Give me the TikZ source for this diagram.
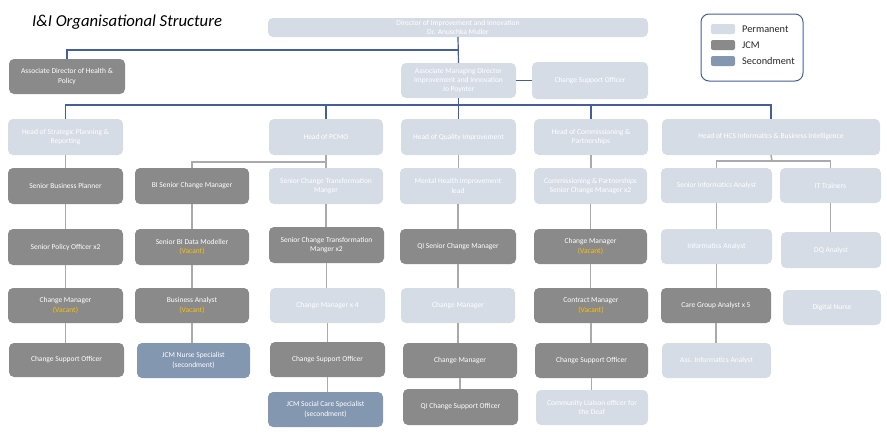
\documentclass[tikz,border=0pt]{standalone}
\usepackage{fontspec}
\setmainfont{Carlito}
\definecolor{permc}{RGB}{214,220,229}
\definecolor{jcmc}{RGB}{138,138,138}
\definecolor{secc}{RGB}{132,151,176}
\definecolor{bluel}{RGB}{68,94,160}
\definecolor{grayl}{RGB}{170,170,170}
\definecolor{vacc}{RGB}{255,192,0}
\newcommand\vac{\textcolor{vacc}{(Vacant)}}
\newcommand\bx[7]{\node[#2, minimum width={#5pt-#3pt}, minimum height={#6pt-#4pt}] (#1) at ({(#3+#5)/2},{(#4+#6)/2}) {#7};}
\tikzset{
  box/.style={rounded corners=5pt, text=white, align=center, inner sep=1pt, outer sep=0pt,
    font=\fontsize{7.5}{9.3}\selectfont},
  perm/.style={box, fill=permc},
  jcm/.style={box, fill=jcmc},
  sec/.style={box, fill=secc},
  bline/.style={draw=bluel, line width=1.2pt},
  gline/.style={draw=grayl, line width=1.5pt},
  swatch/.style={rounded corners=2pt, minimum width=24pt, minimum height=10pt, inner sep=0pt},
  legtext/.style={anchor=west, font=\fontsize{10.3}{12}\selectfont, text=black!85, inner sep=0pt}
}
\begin{document}
\begin{tikzpicture}[x=1pt,y=-1pt]
\useasboundingbox (0,0) rectangle (887,434);
\node[anchor=base west, inner sep=0pt, font=\fontsize{16.7}{19}\selectfont\itshape, text=black] (title) at (32,26.5) {I\&I Organisational Structure};
% legend
\node[draw=bluel, line width=1pt, rounded corners=8pt, minimum width=102pt, minimum height=67pt, inner sep=0pt] (leg) at (752,47.5) {};
\node[swatch, fill=permc] (sw1) at (723,29) {};
\node[swatch, fill=jcmc] (sw2) at (723,45) {};
\node[swatch, fill=secc] (sw3) at (723,61) {};
\node[legtext] (lt1) at (742,29) {Permanent};
\node[legtext] (lt2) at (742,45) {JCM};
\node[legtext] (lt3) at (742,61) {Secondment};
% row 0
\bx{D}{perm}{268}{18}{648}{37}{Director of Improvement and Innovation\\Dr. Anuschka Muller}
\bx{AD}{jcm}{9}{59}{125}{94}{Associate Director of Health \&\\Policy}
\bx{AMD}{perm}{401}{63}{516}{98}{Associate Managing Director\\Improvement and Innovation\\Jo Poynter}
\bx{CSOt}{perm}{532}{62}{648}{99}{Change Support Officer}
% heads
\bx{HSP}{perm}{8}{119}{123}{155}{Head of Strategic Planning \&\\Reporting}
\bx{HPC}{perm}{269}{119}{383}{155}{Head of PCMO}
\bx{HQI}{perm}{401}{119}{516}{155}{Head of Quality Improvement}
\bx{HCP}{perm}{534}{119}{648}{155}{Head of Commissioning \&\\Partnerships}
\bx{HCS}{perm}{662}{119}{880}{155}{Head of HCS Informatics \& Business Intelligence}
% row 2
\bx{SBP}{jcm}{8}{168}{123}{204}{Senior Business Planner}
\bx{BISCM}{jcm}{135}{168}{249}{204}{BI Senior Change Manager}
\bx{SCTM}{perm}{269}{168}{383}{204}{Senior Change Transformation\\Manger}
\bx{MHIL}{perm}{400}{168}{516}{204}{Mental Health Improvement\\lead}
\bx{CPSCM}{perm}{534}{168}{647}{204}{Commissioning \& Partnerships\\Senior Change Manager x2}
\bx{SIA}{perm}{661}{168}{772}{203}{Senior Informatics Analyst}
\bx{ITT}{perm}{780}{168}{881}{203}{IT Trainers}
% row 3
\bx{SPO}{jcm}{8}{229}{123}{265}{Senior Policy Officer x2}
\bx{SBIDM}{jcm}{135}{229}{249}{265}{Senior BI Data Modeller\\\vac}
\bx{SCTMb}{jcm}{269}{227}{384}{263}{Senior Change Transformation\\Manger x2}
\bx{QISCM}{jcm}{400}{229}{516}{264}{QI Senior Change Manager}
\bx{CMe}{jcm}{534}{229}{647}{264}{Change Manager\\\vac}
\bx{IA}{perm}{661}{229}{772}{264}{Informatics Analyst}
\bx{DQ}{perm}{781}{232}{881}{268}{DQ Analyst}
% row 4
\bx{CMa}{jcm}{8}{288}{123}{323}{Change Manager\\\vac}
\bx{BA}{jcm}{135}{288}{249}{323}{Business Analyst\\\vac}
\bx{CMc}{perm}{270}{288}{385}{323}{Change Manager x 4}
\bx{CMd}{perm}{401}{288}{515}{323}{Change Manager}
\bx{CTM}{jcm}{534}{288}{648}{323}{Contract Manager\\\vac}
\bx{CGA}{jcm}{661}{288}{771}{323}{Care Group Analyst x 5}
\bx{DN}{perm}{783}{290}{881}{325}{Digital Nurse}
% row 5
\bx{CSOa}{jcm}{9}{343}{124}{377}{Change Support Officer}
\bx{JNS}{sec}{137}{343}{250}{378}{JCM Nurse Specialist\\(secondment)}
\bx{CSOc}{jcm}{270}{342}{385}{377}{Change Support Officer}
\bx{CMf}{jcm}{403}{343}{517}{378}{Change Manager}
\bx{CSOe}{jcm}{535}{343}{648}{378}{Change Support Officer}
\bx{AIA}{perm}{662}{343}{771}{378}{Ass. Informatics Analyst}
% row 6
\bx{JSCS}{sec}{268}{392}{383}{427}{JCM Social Care Specialist\\(secondment)}
\bx{QICSO}{jcm}{403}{389}{518}{425}{QI Change Support Officer}
\bx{CLO}{perm}{536}{390}{648}{425}{Community Liaison officer for\\the Deaf}
% blue connectors
\coordinate (j1) at (458,50);
\coordinate (j2) at (458,105);
\draw[bline] (D.south) -- (AMD.north);
\draw[bline] (AD.north) |- (j1);
\draw[bline] (AMD.east) -- (CSOt.west);
\draw[bline] (AMD.south) -- (HQI.north);
\draw[bline] (HSP.north) |- (j2) -| (HCS.north);
\draw[bline] (HPC.north) -- (HPC.north |- j2);
\draw[bline] (HCP.north) -- (HCP.north |- j2);
% gray connectors
\coordinate (j3) at (326,162);
\coordinate (j4) at (772,161);
\draw[gline] (BISCM.north) |- (j3);
\draw[gline] (HCS.south) -- (j4);
\draw[gline] (SIA.north) |- (j4) -| (ITT.north);
\foreach \a/\b in {HSP/SBP,SBP/SPO,SPO/CMa,CMa/CSOa,
  BISCM/SBIDM,SBIDM/BA,BA/JNS,
  HPC/SCTM,SCTM/SCTMb,SCTMb/CMc,CMc/CSOc,CSOc/JSCS,
  HQI/MHIL,MHIL/QISCM,QISCM/CMd,CMd/CMf,CMf/QICSO,
  HCP/CPSCM,CPSCM/CMe,CMe/CTM,CTM/CSOe,CSOe/CLO,
  SIA/IA,IA/CGA,CGA/AIA,ITT/DQ}
  \draw[gline] (\a.south) -- (\a.south |- \b.north);
\end{tikzpicture}
\end{document}
